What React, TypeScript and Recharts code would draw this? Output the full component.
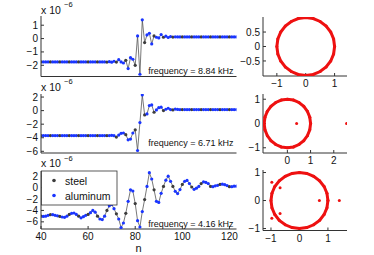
import { LineChart, Line, XAxis, YAxis, ScatterChart, Scatter } from "recharts";

const FONT = '"Liberation Sans", Arial, Helvetica, sans-serif';
const BLUE = "#1a35ff";
const STEEL = "#3c3c3c";
const RED = "#ee1111";
const AXIS = "#333";

// bead index n of the first value in each series
const firstBead = 40;
const steelBeads = [40, 44, 48, 52, 56, 60, 64, 68, 72, 76, 80, 84, 88, 92, 96, 100, 104, 108, 112, 116, 120];

// displacement (x 1e-6) per bead, n = 40..123
const highFreq = [
  -1.75, -1.75, -1.75, -1.75, -1.75, -1.75, -1.75, -1.75, -1.75, -1.75,
  -1.75, -1.75, -1.75, -1.75, -1.75, -1.75, -1.75, -1.75, -1.75, -1.75,
  -1.75, -1.75, -1.75, -1.75, -1.75, -1.75, -1.75, -1.75, -1.76, -1.73,
  -1.77, -1.7, -1.76, -1.58, -1.75, -1.83, -1.63, -2.25, -1.43, -1.55,
  -2.0, 0.2, -2.67, 1.4, -0.3, 0.27, 0.4, -0.4, 0.2, 0.1,
  0.05, 0.3, 0.1, 0.18, 0.08, 0.15, 0.11, 0.13, 0.12, 0.12,
  0.12, 0.12, 0.12, 0.12, 0.12, 0.12, 0.12, 0.12, 0.12, 0.12,
  0.12, 0.12, 0.12, 0.12, 0.12, 0.12, 0.12, 0.12, 0.12, 0.12,
  0.12, 0.12, 0.12, 0.12,
];
const midFreq = [
  -3.68, -3.68, -3.68, -3.68, -3.68, -3.68, -3.68, -3.68, -3.68, -3.68,
  -3.68, -3.68, -3.68, -3.68, -3.68, -3.68, -3.68, -3.68, -3.68, -3.68,
  -3.68, -3.68, -3.68, -3.68, -3.68, -3.68, -3.68, -3.68, -3.68, -3.68,
  -3.65, -3.7, -3.9, -3.6, -3.35, -3.3, -3.55, -4.3, -4.2, -3.3,
  -2.84, -5.88, -1.76, 2.3, -0.63, -0.49, 0.74, 0.84, -0.24, 0.1,
  0.44, 0.5, 0.0, 0.2, 0.35, 0.15, 0.1, 0.22, 0.18, 0.15,
  0.15, 0.15, 0.15, 0.15, 0.15, 0.15, 0.15, 0.15, 0.15, 0.15,
  0.15, 0.15, 0.15, 0.15, 0.15, 0.15, 0.15, 0.15, 0.15, 0.15,
  0.15, 0.15, 0.15, 0.15,
];
const lowFreq = [
  -5.0, -5.05, -5.0, -4.85, -4.75, -4.75, -4.85, -4.95, -5.05, -5.15,
  -5.2, -5.0, -4.7, -4.5, -4.45, -4.7, -5.0, -5.3, -5.1, -4.85,
  -4.7, -4.4, -4.0, -4.3, -5.0, -5.5, -5.6, -5.0, -4.0, -3.2,
  -2.95, -3.7, -4.6, -5.5, -7.0, -6.2, -4.5, -2.4, -0.4, -0.6,
  -2.8, -5.8, -6.9, -4.2, -2.1, 0.2, 2.6, 1.5, -0.4, -2.4,
  -2.6, -1.0, 0.2, 1.3, 2.0, 1.1, 0.2, -0.65, -1.05, -0.35,
  0.55, 1.1, 1.25, 0.7, 0.1, -0.3, -0.1, 0.2, 0.7, 1.0,
  0.9, 0.7, 0.2, 0.15, 0.3, 0.4, 0.55, 0.6, 0.5, 0.35,
  0.15, 0.15, 0.25, 0.25,
];

const nTicks = [40, 60, 80, 100, 120];
const highTicks = [-2, -1, 0, 1];
const midTicks = [-6, -4, -2, 0, 2];
const lowTicks = [-6, -4, -2, 0, 2];
const freqLabels = ["frequency = 8.84 kHz", "frequency = 6.71 kHz", "frequency = 4.16 kHz"];
const legendNames = ["steel", "aluminum"];

// multipliers in the complex plane (re, im)
const unitCircle = [
  { x: 1, y: 0 }, { x: 0.966, y: 0.259 }, { x: 0.866, y: 0.5 }, { x: 0.707, y: 0.707 },
  { x: 0.5, y: 0.866 }, { x: 0.259, y: 0.966 }, { x: 0, y: 1 }, { x: -0.259, y: 0.966 },
  { x: -0.5, y: 0.866 }, { x: -0.707, y: 0.707 }, { x: -0.866, y: 0.5 }, { x: -0.966, y: 0.259 },
  { x: -1, y: 0 }, { x: -0.966, y: -0.259 }, { x: -0.866, y: -0.5 }, { x: -0.707, y: -0.707 },
  { x: -0.5, y: -0.866 }, { x: -0.259, y: -0.966 }, { x: 0, y: -1 }, { x: 0.259, y: -0.966 },
  { x: 0.5, y: -0.866 }, { x: 0.707, y: -0.707 }, { x: 0.866, y: -0.5 }, { x: 0.966, y: -0.259 },
  { x: 1, y: 0 },
];
const midOutliers = [{ x: 0.4, y: 0 }, { x: 2.55, y: 0 }];
const lowOutliers = [
  { x: -0.97, y: 0.65 }, { x: -0.68, y: 0.46 }, { x: 0.7, y: 0 }, { x: 1.4, y: 0 },
  { x: -0.68, y: -0.46 }, { x: -0.97, y: -0.63 },
];

const toRows = (vals: number[]) =>
  vals.map((v, i) => ({ n: firstBead + i, v, steel: steelBeads.includes(firstBead + i) }));

const fmt = (v: number) => (v < 0 ? "\u2212" + Math.abs(v) : String(v));
const tickStyle = { fontSize: 10, fill: "#111", fontFamily: FONT };

const YW = 34;
const XH = 18;
const PAD = 2;

const renderBead = (p: any) => (
  <circle key={p.index} cx={p.cx} cy={p.cy} r={1.6} fill={p.payload.steel ? STEEL : BLUE} />
);
const redDot = (p: any) => <circle cx={p.cx} cy={p.cy} r={1.5} fill={RED} />;

type Box = { x: number; y: number; w: number; h: number };

const SeriesPanel = ({ vals, box, yDomain, yTicks, showX }: any) => {
  const b: Box = box;
  return (
    <div style={{ position: "absolute", left: b.x - YW, top: b.y - PAD }}>
      <LineChart width={YW + b.w + PAD} height={PAD + b.h + XH} data={toRows(vals)} margin={{ top: PAD, right: PAD, bottom: 0, left: 0 }}>
        <XAxis dataKey="n" type="number" domain={[40, 123]} ticks={nTicks} interval={0} allowDataOverflow height={XH} tickSize={-3} tickMargin={7} tick={showX ? tickStyle : false} stroke={AXIS} />
        <XAxis xAxisId="top" orientation="top" dataKey="n" type="number" domain={[40, 123]} ticks={nTicks} interval={0} allowDataOverflow height={0} tickSize={-3} tick={false} stroke={AXIS} />
        <YAxis type="number" domain={yDomain} ticks={yTicks} interval={0} allowDataOverflow width={YW} tickSize={-3} tickMargin={6} tick={tickStyle} tickFormatter={fmt} stroke={AXIS} />
        <YAxis yAxisId="right" orientation="right" type="number" domain={yDomain} ticks={yTicks} interval={0} allowDataOverflow width={0} tickSize={-3} tick={false} stroke={AXIS} />
        <Line dataKey="v" stroke="#555" strokeWidth={0.8} dot={renderBead} activeDot={false} isAnimationActive={false} />
      </LineChart>
    </div>
  );
};

const PolePanel = ({ box, xDomain, yDomain, xTicks, yTicks, extras }: any) => {
  const b: Box = box;
  return (
    <div style={{ position: "absolute", left: b.x - YW, top: b.y - PAD }}>
      <ScatterChart width={YW + b.w + PAD} height={PAD + b.h + XH} margin={{ top: PAD, right: PAD, bottom: 0, left: 0 }}>
        <XAxis dataKey="x" type="number" domain={xDomain} ticks={xTicks} interval={0} allowDataOverflow height={XH} tickSize={-3} tickMargin={7} tick={tickStyle} tickFormatter={fmt} stroke={AXIS} />
        <XAxis xAxisId="top" orientation="top" dataKey="x" type="number" domain={xDomain} ticks={xTicks} interval={0} allowDataOverflow height={0} tickSize={-3} tick={false} stroke={AXIS} />
        <YAxis dataKey="y" type="number" domain={yDomain} ticks={yTicks} interval={0} allowDataOverflow width={YW} tickSize={-3} tickMargin={6} tick={tickStyle} tickFormatter={fmt} stroke={AXIS} />
        <YAxis yAxisId="right" orientation="right" dataKey="y" type="number" domain={yDomain} ticks={yTicks} interval={0} allowDataOverflow width={0} tickSize={-3} tick={false} stroke={AXIS} />
        <Scatter data={unitCircle} line={{ stroke: RED, strokeWidth: 3 }} shape={redDot} isAnimationActive={false} />
        {extras && <Scatter data={extras} shape={redDot} isAnimationActive={false} />}
      </ScatterChart>
    </div>
  );
};

const leftBoxes: Box[] = [
  { x: 41, y: 16, w: 195.5, h: 60.5 },
  { x: 41, y: 94, w: 195.5, h: 59 },
  { x: 41, y: 170.5, w: 195.5, h: 58 },
];
const rightBoxes: Box[] = [
  { x: 263, y: 17, w: 84, h: 59 },
  { x: 263, y: 94, w: 84, h: 59 },
  { x: 263, y: 169.5, w: 84, h: 60.5 },
];
const scaleLabelY = [13.5, 90.5, 167];
const freqBaseline = [73.5, 146, 226.5];

export default function App() {
  return (
    <div style={{ position: "absolute", left: 0, top: 0, width: 374, height: 255, background: "#fff", fontFamily: FONT }}>
      <SeriesPanel vals={highFreq} box={leftBoxes[0]} yDomain={[-2.84, 1.69]} yTicks={highTicks} showX={false} />
      <SeriesPanel vals={midFreq} box={leftBoxes[1]} yDomain={[-6.25, 2.45]} yTicks={midTicks} showX={false} />
      <SeriesPanel vals={lowFreq} box={leftBoxes[2]} yDomain={[-7.25, 2.9]} yTicks={lowTicks} showX={true} />

      <PolePanel box={rightBoxes[0]} xDomain={[-1.48, 1.43]} yDomain={[-1.02, 1.02]} xTicks={[-1, 0, 1]} yTicks={[-0.5, 0, 0.5]} />
      <PolePanel box={rightBoxes[1]} xDomain={[-1.05, 2.57]} yDomain={[-1.215, 1.215]} xTicks={[0, 1, 2]} yTicks={[-1, 0, 1]} extras={midOutliers} />
      <PolePanel box={rightBoxes[2]} xDomain={[-1.28, 1.67]} yDomain={[-1.07, 1.09]} xTicks={[-1, 0, 1]} yTicks={[-1, 0, 1]} extras={lowOutliers} />

      <svg width={374} height={255} style={{ position: "absolute", left: 0, top: 0, pointerEvents: "none" }} fontFamily={FONT}>
        {scaleLabelY.map((y, i) => (
          <g key={i} fill="#111">
            <text x={41} y={y} fontSize={10.5}>x 10</text>
            <text x={64} y={y - 6.5} fontSize={7.5}>{"\u22126"}</text>
          </g>
        ))}
        {freqLabels.map((t, i) => (
          <text key={t} x={233.5} y={freqBaseline[i]} fontSize={9} textAnchor="end" fill="#111">{t}</text>
        ))}
        <rect x={41.5} y={171} width={75.5} height={34} fill="#fff" stroke={AXIS} strokeWidth={0.8} />
        <circle cx={54} cy={180.5} r={1.8} fill={STEEL} />
        <text x={65} y={184.5} fontSize={10.5} fill="#111">{legendNames[0]}</text>
        <circle cx={54} cy={195.5} r={1.8} fill={BLUE} />
        <text x={65} y={199.5} fontSize={10.5} fill="#111">{legendNames[1]}</text>
        <text x={138.5} y={252} fontSize={11} textAnchor="middle" fill="#111">n</text>
      </svg>
    </div>
  );
}
